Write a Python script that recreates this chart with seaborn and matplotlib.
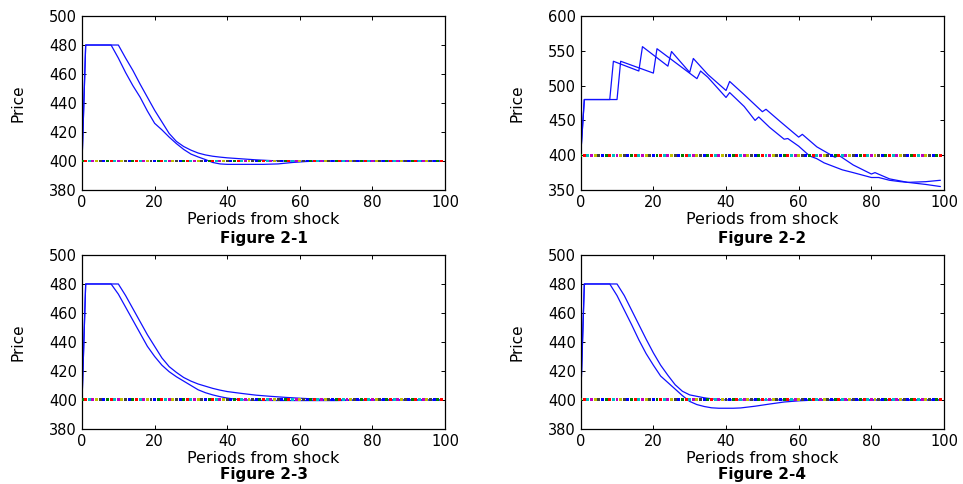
import numpy as np
import matplotlib.pyplot as plt
import seaborn as sns
import pandas as pd

sns.set_theme(style="ticks")
plt.rcParams['font.family'] = ['DejaVu Sans']
plt.rcParams['text.color'] = 'black'
plt.rcParams['axes.labelcolor'] = 'black'

# ---- datos ----
# Figure 2-1
f1_t_a = [0, 1, 8, 10, 12, 14, 16, 18, 20, 22, 24, 26, 28, 30, 32, 34, 36, 38, 40, 50, 54, 58, 62, 66, 99]
f1_p_a = [400, 480, 480, 471, 461, 452, 444, 434.5, 426, 421.5, 416.5, 412, 408, 404.8, 402.8, 401, 399, 398,
          397.7, 397.7, 398, 399, 399.7, 400, 400]
f1_t_b = [0, 1, 10, 12, 14, 16, 18, 20, 22, 24, 26, 28, 30, 32, 34, 36, 38, 40, 44, 48, 52, 56, 99]
f1_p_b = [400, 480, 480, 471, 462.5, 453, 444, 435, 427, 419, 413.5, 410, 407.5, 405.5, 404.2, 403.3, 402.7,
          402.2, 401.5, 400.8, 400.3, 400, 400]

# Figure 2-2
f2_t_a = [0, 1, 8, 9, 16, 17, 24, 25, 30, 31, 35, 40, 41, 45, 50, 51, 55, 60, 61, 65, 70, 71, 75, 80, 81, 85,
          90, 95, 99]
f2_p_a = [400, 480, 480, 535, 521, 556, 528, 549, 519, 539, 516, 493, 506, 487, 462.5, 466, 448, 426, 430, 412,
          397, 400, 386, 373, 375, 366, 361, 358, 355]
f2_t_b = [0, 1, 10, 11, 20, 21, 32, 33, 35, 40, 41, 45, 48, 49, 52, 56, 57, 60, 63, 65, 67, 70, 72, 75, 80, 82,
          85, 88, 90, 95, 99]
f2_p_b = [400, 480, 480, 535, 518, 553, 510, 521, 512, 483, 490, 470, 450, 455, 440, 423, 424, 413, 399, 395,
          389, 383, 379, 375, 368, 368, 364, 362, 361, 362, 364]

# Figure 2-3
f3_t_a = [0, 1, 8, 10, 12, 14, 16, 18, 20, 22, 24, 26, 28, 30, 32, 34, 36, 38, 40, 42, 44, 48, 60, 70, 80, 99]
f3_p_a = [400, 480, 480, 473, 464, 455, 446, 437, 430, 424, 419.5, 416, 413, 410, 407, 405, 403.5, 402.3, 401.3,
          400.6, 400.1, 399.7, 399.6, 399.6, 400, 400]
f3_t_b = [0, 1, 10, 12, 14, 16, 18, 20, 22, 24, 26, 28, 30, 32, 34, 36, 38, 40, 44, 48, 52, 56, 60, 64, 68, 72, 99]
f3_p_b = [400, 480, 480, 472, 463, 454, 445, 437, 429, 423, 419, 415.5, 413, 411, 409.5, 408, 406.8, 405.8,
          404.5, 403.3, 402.5, 401.8, 401.2, 400.7, 400.3, 400, 400]

# Figure 2-4
f4_t_a = [0, 1, 8, 10, 12, 14, 16, 18, 20, 22, 24, 26, 28, 30, 32, 34, 36, 38, 42, 44, 48, 52, 56, 60, 64, 66, 99]
f4_p_a = [400, 480, 480, 472, 462, 452, 441.5, 432, 424, 416.5, 412, 407.5, 403, 399, 396.8, 395.5, 394.6,
          394.3, 394.3, 394.5, 395.7, 397.2, 398.6, 399.4, 399.9, 400, 400]
f4_t_b = [0, 1, 10, 12, 14, 16, 18, 20, 22, 24, 26, 28, 30, 32, 34, 36, 38, 40, 99]
f4_p_b = [400, 480, 480, 472, 462, 452, 442, 432.5, 424, 417, 410.5, 406, 403.5, 402.5, 401.5, 400.8, 400.3,
          400, 400]

# precio de equilibrio (serie punteada de colores)
equilibrio = 400
periodos_eq = list(range(0, 100))
colores_matlab = ['#008000', '#ff0000', '#00bfbf', '#bf00bf', '#bfbf00', '#404040', '#0000ff']

paneles = [
    ("Figure 2-1", f1_t_a, f1_p_a, f1_t_b, f1_p_b, (380, 500), [380, 400, 420, 440, 460, 480, 500]),
    ("Figure 2-2", f2_t_a, f2_p_a, f2_t_b, f2_p_b, (350, 600), [350, 400, 450, 500, 550, 600]),
    ("Figure 2-3", f3_t_a, f3_p_a, f3_t_b, f3_p_b, (380, 500), [380, 400, 420, 440, 460, 480, 500]),
    ("Figure 2-4", f4_t_a, f4_p_a, f4_t_b, f4_p_b, (380, 500), [380, 400, 420, 440, 460, 480, 500]),
]

# posicion de los ejes (fraccion de figura)
posiciones = [
    [0.0852, 0.6074, 0.3769, 0.3595],
    [0.6030, 0.6074, 0.3773, 0.3595],
    [0.0852, 0.1137, 0.3769, 0.3595],
    [0.6030, 0.1137, 0.3773, 0.3595],
]

fig = plt.figure(figsize=(9.63, 4.84), dpi=100)

df_eq = pd.DataFrame({
    'periodo': periodos_eq,
    'precio': [equilibrio] * len(periodos_eq),
    'agente': [str(i % len(colores_matlab)) for i in periodos_eq],
})
paleta_eq = {str(i): c for i, c in enumerate(colores_matlab)}

for k, (titulo, ta, pa, tb, pb, ylim, yticks) in enumerate(paneles):
    ax = fig.add_axes(posiciones[k])
    df = pd.concat([
        pd.DataFrame({'periodo': ta, 'precio': pa, 'curva': 'a'}),
        pd.DataFrame({'periodo': tb, 'precio': pb, 'curva': 'b'}),
    ])

    sns.lineplot(data=df, x='periodo', y='precio', hue='curva', palette=['#1010ff', '#1010ff'],
                 estimator=None, linewidth=0.9, legend=False, ax=ax, zorder=2)
    sns.scatterplot(data=df_eq, x='periodo', y='precio', hue='agente', palette=paleta_eq,
                    marker='s', s=4.5, linewidth=0, legend=False, ax=ax, zorder=3)

    ax.set_xlim(0, 100)
    ax.set_ylim(*ylim)
    ax.set_xticks([0, 20, 40, 60, 80, 100])
    ax.set_yticks(yticks)
    ax.tick_params(direction='in', length=3, width=0.7, top=True, right=True,
                   labelsize=10.5, pad=3.5, colors='black')
    for sp in ax.spines.values():
        sp.set_visible(True)
        sp.set_linewidth(0.9)
        sp.set_color('black')

    ax.set_xlabel('Periods from shock', fontsize=11.5, color='black')
    ax.set_ylabel('Price', fontsize=11, color='black')
    ax.xaxis.set_label_coords(0.5, -0.125)
    ax.yaxis.set_label_coords(-0.155, 0.5)
    ytit = -0.235 if k < 2 else -0.22
    ax.text(0.5, ytit, titulo, transform=ax.transAxes, ha='center', va='top',
            fontsize=11, fontweight='bold', color='black')

plt.savefig('out.png', dpi=100)
